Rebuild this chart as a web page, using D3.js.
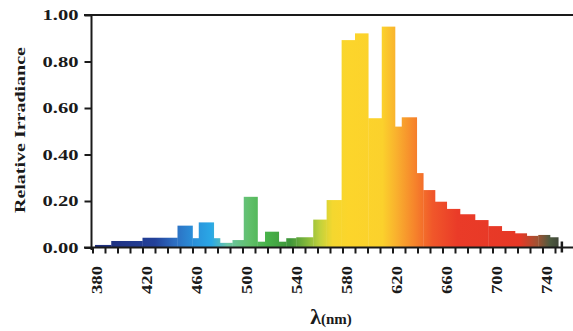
<!DOCTYPE html>
<html>
<head>
<meta charset="utf-8">
<script src="https://cdn.jsdelivr.net/npm/d3@7"></script>
<style>
  body { margin: 0; background: #fff; }
  svg { display: block; }
</style>
</head>
<body>
<svg></svg>
<script>
// bin edges in nm, one more than the values
const binEdges = [382, 395, 420, 448, 460, 465, 477, 482, 492, 501, 512, 518, 529, 535, 543,
    556.6, 567.3, 579.3, 590, 600.6, 611.4, 622, 627.4, 639.4, 644.6, 654, 663.4, 674,
    686, 696.6, 707.4, 718, 727.4, 736.6, 746, 752.6];
const irradiance = [0.011, 0.028, 0.042, 0.094, 0.04, 0.108, 0.04, 0.02, 0.032, 0.218,
    0.025, 0.068, 0.025, 0.04, 0.044, 0.12, 0.204, 0.892, 0.921, 0.556, 0.95, 0.52,
    0.56, 0.32, 0.247, 0.197, 0.166, 0.143, 0.118, 0.092, 0.071, 0.061, 0.05, 0.054, 0.044];
const xTickLabels = [380, 420, 460, 500, 540, 580, 620, 660, 700, 740];
const yTickLabels = [0, 0.2, 0.4, 0.6, 0.8, 1.0];

const width = 573, height = 331;

// spectrum colours along wavelength
const specStops = [
    [380, "#1d2b78"], [430, "#23419a"], [445, "#2d6cc0"], [460, "#2a8ed8"],
    [475, "#2aa8e6"], [488, "#6cc6a6"], [505, "#62c06c"], [520, "#47b249"],
    [538, "#3f963b"], [552, "#86b93a"], [562, "#c2d23c"], [572, "#f4d72f"],
    [585, "#fcd52b"], [612, "#fbd12c"], [624, "#f9ae2e"], [638, "#f6832b"],
    [652, "#f0572a"], [672, "#ea3b28"], [722, "#e63826"], [736, "#a05232"],
    [746, "#4d5a3f"], [760, "#333333"]
];

const data = irradiance.map((v, i) => ({ x0: binEdges[i], x1: binEdges[i + 1], value: v }));

const svg = d3.select("svg")
    .attr("width", width)
    .attr("height", height);

const x = d3.scaleLinear()
    .domain([380, 764.4])
    .range([92.5, 573]);

const y = d3.scaleLinear()
    .domain([0, 1])
    .range([247.5, 15]);

const grad = svg.append("defs").append("linearGradient")
    .attr("id", "spec")
    .attr("gradientUnits", "userSpaceOnUse")
    .attr("x1", x(380)).attr("x2", x(760))
    .attr("y1", 0).attr("y2", 0);

grad.selectAll("stop").data(specStops).enter().append("stop")
    .attr("offset", d => (d[0] - 380) / (760 - 380))
    .attr("stop-color", d => d[1]);

svg.append("g")
    .selectAll("rect").data(data).enter().append("rect")
    .attr("x", d => x(d.x0))
    .attr("y", d => y(d.value))
    .attr("width", d => x(d.x1) - x(d.x0) + 0.3)
    .attr("height", d => y(0) - y(d.value))
    .attr("fill", "url(#spec)");

const axisColor = "#1a1a1a";
const serif = "'Liberation Serif', 'DejaVu Serif', serif";

// frame: left axis, top line, bottom axis
svg.append("line")
    .attr("x1", 91.5).attr("x2", 91.5)
    .attr("y1", 15).attr("y2", 250)
    .attr("stroke", axisColor).attr("stroke-width", 2);

svg.append("line")
    .attr("x1", 84).attr("x2", 573)
    .attr("y1", 15).attr("y2", 15)
    .attr("stroke", axisColor).attr("stroke-width", 2);

svg.append("line")
    .attr("x1", 84).attr("x2", 573)
    .attr("y1", y(0)).attr("y2", y(0))
    .attr("stroke", axisColor).attr("stroke-width", 2);

// y axis
const yAxis = g => g
    .attr("transform", "translate(91.5,0)")
    .call(d3.axisLeft(y).tickValues(yTickLabels).tickFormat(d3.format(".2f"))
        .tickSize(7).tickPadding(6))
    .call(g => g.select(".domain").remove())
    .call(g => g.selectAll("line").attr("stroke", axisColor).attr("stroke-width", 2))
    .call(g => g.selectAll("text")
        .attr("fill", axisColor)
        .attr("font-family", serif)
        .attr("font-weight", "bold")
        .attr("font-size", 15)
        .attr("textLength", 36)
        .attr("lengthAdjust", "spacingAndGlyphs"));

svg.append("g").call(yAxis);

// minor x ticks every 10 nm
svg.append("g")
    .attr("transform", `translate(0,${y(0)})`)
    .call(d3.axisBottom(x).tickValues(d3.range(380, 751, 10)).tickSize(6).tickFormat(""))
    .call(g => g.select(".domain").remove())
    .call(g => g.selectAll("line").attr("stroke", axisColor).attr("stroke-width", 2));

// odd end marker on the baseline
svg.append("line")
    .attr("x1", x(755.5)).attr("x2", x(755.5))
    .attr("y1", y(0) - 6).attr("y2", y(0) + 5)
    .attr("stroke", axisColor).attr("stroke-width", 2.5);

// rotated x labels
svg.append("g")
    .selectAll("text").data(xTickLabels).enter().append("text")
    .attr("transform", d => `translate(${x(d) + 4},266) rotate(-90)`)
    .attr("text-anchor", "end")
    .attr("dy", "0.35em")
    .attr("fill", axisColor)
    .attr("font-family", serif)
    .attr("font-weight", "bold")
    .attr("font-size", 15)
    .attr("textLength", 28)
    .attr("lengthAdjust", "spacingAndGlyphs")
    .text(d => d);

// axis titles
svg.append("text")
    .attr("transform", "translate(25,130) rotate(-90)")
    .attr("text-anchor", "middle")
    .attr("fill", axisColor)
    .attr("font-family", serif)
    .attr("font-weight", "bold")
    .attr("font-size", 15)
    .attr("textLength", 166)
    .attr("lengthAdjust", "spacingAndGlyphs")
    .text("Relative Irradiance");

const xt = svg.append("text")
    .attr("x", 331)
    .attr("y", 324)
    .attr("text-anchor", "middle")
    .attr("fill", axisColor)
    .attr("font-family", serif)
    .attr("font-weight", "bold");

xt.append("tspan").attr("font-size", 22).text("λ");
xt.append("tspan").attr("font-size", 15).text("(nm)");
</script>
</body>
</html>
